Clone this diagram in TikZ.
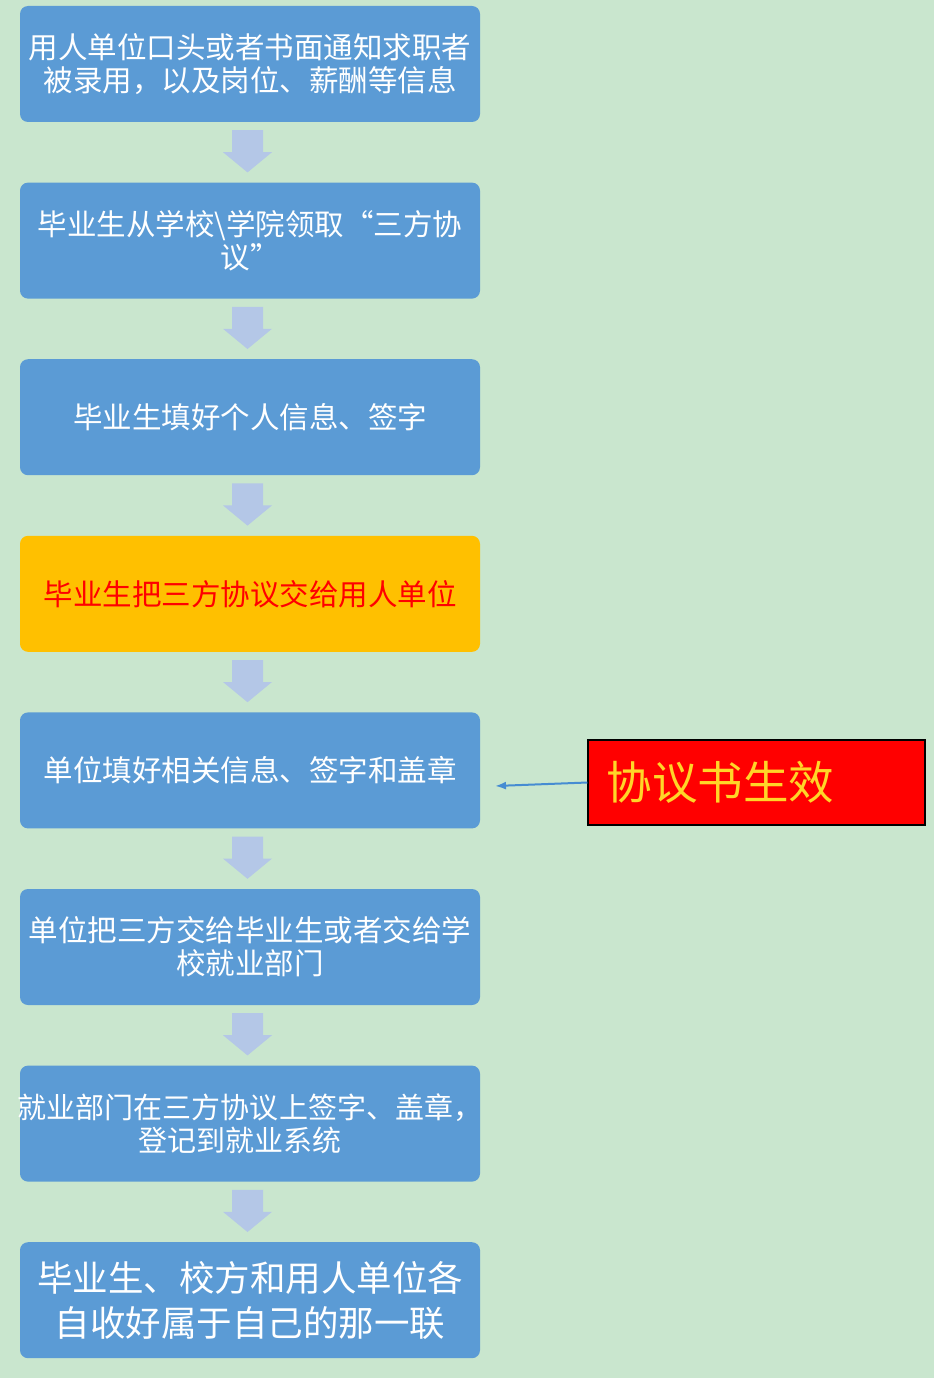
\documentclass[tikz,border=0pt]{standalone}
\usepackage{fontspec}
\newfontfamily\cjk{Noto Sans CJK SC}
\usepackage{xcolor}
\usetikzlibrary{calc,arrows.meta}
\definecolor{bgcol}{RGB}{201,230,206}
\definecolor{boxblue}{RGB}{91,155,213}
\definecolor{arrblue}{RGB}{180,199,231}
\definecolor{boxgold}{RGB}{255,192,0}
\definecolor{linkblue}{RGB}{70,140,210}
\definecolor{txtgold}{RGB}{255,214,40}
\tikzset{
  stepbox/.style={fill=boxblue,rounded corners=8pt,minimum width=460pt,minimum height=116pt,
    text width=450pt,align=center,inner sep=0pt,text=white,font=\cjk\fontsize{29.5}{33}\selectfont},
  blockarrow/.style={fill=arrblue}
}
\begin{document}
\begin{tikzpicture}[x=1pt,y=-1pt]
\fill[bgcol] (0,0) rectangle (934,1378);
\useasboundingbox (0,0) rectangle (934,1378);

\node[stepbox] (b0) at (250,64) {用人单位口头或者书面通知求职者\\被录用，以及岗位、薪酬等信息};
\node[stepbox] (b1) at (250,240.6) {毕业生从学校\textbackslash 学院领取“三方协\\议”};
\node[stepbox] (b2) at (250,417.2) {毕业生填好个人信息、签字};
\node[stepbox,fill=boxgold,text=red] (b3) at (250,593.8) {毕业生把三方协议交给用人单位};
\node[stepbox] (b4) at (250,770.4) {单位填好相关信息、签字和盖章};
\node[stepbox] (b5) at (250,947) {单位把三方交给毕业生或者交给学\\校就业部门};
\node[stepbox,text width=490pt,inner xsep=-15pt,font=\cjk\fontsize{29}{33}\selectfont] (b6) at (250,1123.6) {就业部门在三方协议上签字、盖章，\\登记到就业系统\hspace*{20pt}};
\node[stepbox,font=\cjk\fontsize{35.5}{45}\selectfont] (b7) at (250,1300.2) {毕业生、校方和用人单位各\\自收好属于自己的那一联};

% block arrows between the steps
\foreach \i/\j in {0/1,1/2,2/3,3/4,4/5,5/6,6/7}{
  \fill[blockarrow] ($(b\i.south)+(-2.5,8)$) ++(-15.5,0) -- ++(31,0) -- ++(0,22) -- ++(9,0)
    -- ($(b\j.north)+(-2.5,-10)$) -- ($(b\i.south)+(-2.5,30)+(-24.5,0)$) -- ++(9,0) -- cycle;
}

\node[draw=black,line width=1.2pt,fill=red,minimum width=337pt,minimum height=85pt,
  text width=300pt,align=left,inner xsep=18pt,inner ysep=0pt,text=txtgold,
  font=\cjk\fontsize{45.5}{50}\selectfont] (eff) at (756.5,782.5) {协议书生效};
\coordinate (tip) at (495,786);
\draw[linkblue,line width=2pt,-{Latex[length=11pt,width=8pt]}] (eff.west) -- (tip);

\end{tikzpicture}
\end{document}
